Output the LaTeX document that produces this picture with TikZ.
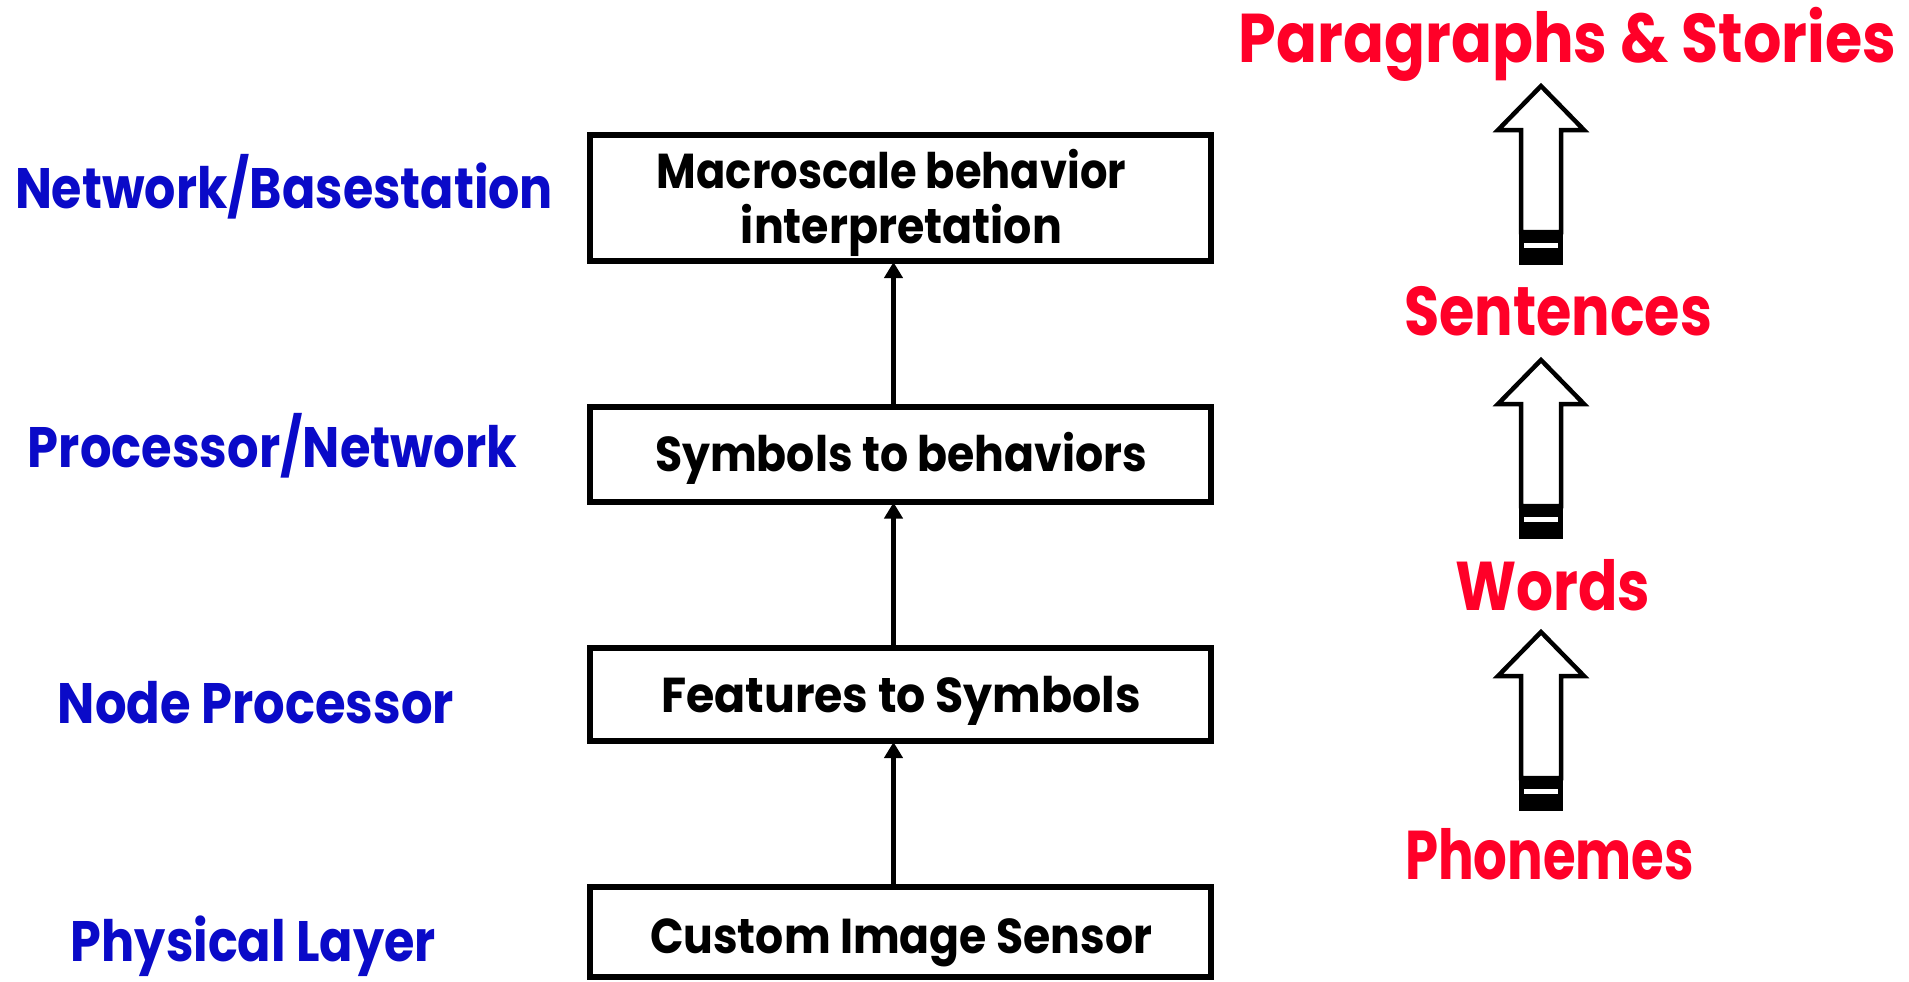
\documentclass[tikz,border=0pt]{standalone}
\usepackage{fontspec}
\setmainfont{Poppins}
\usetikzlibrary{arrows.meta}
\definecolor{lblblue}{RGB}{10,10,200}
\definecolor{lblred}{RGB}{255,0,40}
\newcommand\fitw[2]{\resizebox{#1}{\height}{#2}}
\tikzset{
  box/.style={draw, line width=6pt, minimum width=621pt, inner sep=0pt},
  boxtxt/.style={inner sep=0pt, anchor=base, font=\fontsize{49}{54}\selectfont\bfseries},
  bluetxt/.style={inner sep=0pt, anchor=base, text=lblblue, font=\fontsize{57}{60}\selectfont\bfseries},
  redtxt/.style={inner sep=0pt, anchor=base, text=lblred, font=\fontsize{69}{72}\selectfont\bfseries},
  conn/.style={line width=5pt, shorten >=-2pt, -{Triangle[length=16pt,width=18pt]}},
  blockarr/.pic={
    \draw[line width=4.5pt, line join=miter, fill=white]
      (0,0) -- (43,44) -- (20,44) -- (20,146) -- (-20,146) -- (-20,44) -- (-43,44) -- cycle;
    \fill[black] (-22,146) rectangle (22,179);
    \fill[white] (-17,157) rectangle (17,162);
  }
}
\begin{document}
\begin{tikzpicture}[x=1pt,y=-1pt]
\useasboundingbox (0,0) rectangle (1909,982);
% boxes
\node[box, minimum height=126pt] (b1) at (900.5,198) {};
\node[box, minimum height=95pt] (b2) at (900.5,454) {};
\node[box, minimum height=93pt] (b3) at (900.5,694.5) {};
\node[box, minimum height=90pt] (b4) at (900.5,932) {};
% box texts
\node[boxtxt] (t1a) at (891.5,188) {\fitw{469pt}{Macroscale behavior}};
\node[boxtxt] (t1b) at (901.5,243) {\fitw{321pt}{interpretation}};
\node[boxtxt] (t2) at (901,471) {\fitw{492pt}{Symbols to behaviors}};
\node[boxtxt] (t3) at (901,712) {\fitw{480pt}{Features to Symbols}};
\node[boxtxt] (t4) at (901,953) {\fitw{502pt}{Custom Image Sensor}};
% connectors
\draw[conn] ([xshift=-7pt]b4.north) -- ([xshift=-7pt]b3.south);
\draw[conn] ([xshift=-7pt]b3.north) -- ([xshift=-7pt]b2.south);
\draw[conn] ([xshift=-7pt]b2.north) -- ([xshift=-7pt]b1.south);
% left labels
\node[bluetxt] (l1) at (284,208) {\fitw{538pt}{Network/Basestation}};
\node[bluetxt] (l2) at (272.5,467) {\fitw{489pt}{Processor/Network}};
\node[bluetxt] (l3) at (256,723) {\fitw{396pt}{Node Processor}};
\node[bluetxt] (l4) at (253.5,961) {\fitw{365pt}{Physical Layer}};
% right labels
\node[redtxt] (r1) at (1567.5,63) {\fitw{657pt}{Paragraphs \& Stories}};
\node[redtxt] (r2) at (1558,335) {\fitw{308pt}{Sentences}};
\node[redtxt] (r3) at (1552.5,610) {\fitw{195pt}{Words}};
\node[redtxt] (r4) at (1549.5,879) {\fitw{289pt}{Phonemes}};
% block arrows
\pic at (1541,86) {blockarr};
\pic at (1541,360) {blockarr};
\pic at (1541,632) {blockarr};
\end{tikzpicture}
\end{document}
